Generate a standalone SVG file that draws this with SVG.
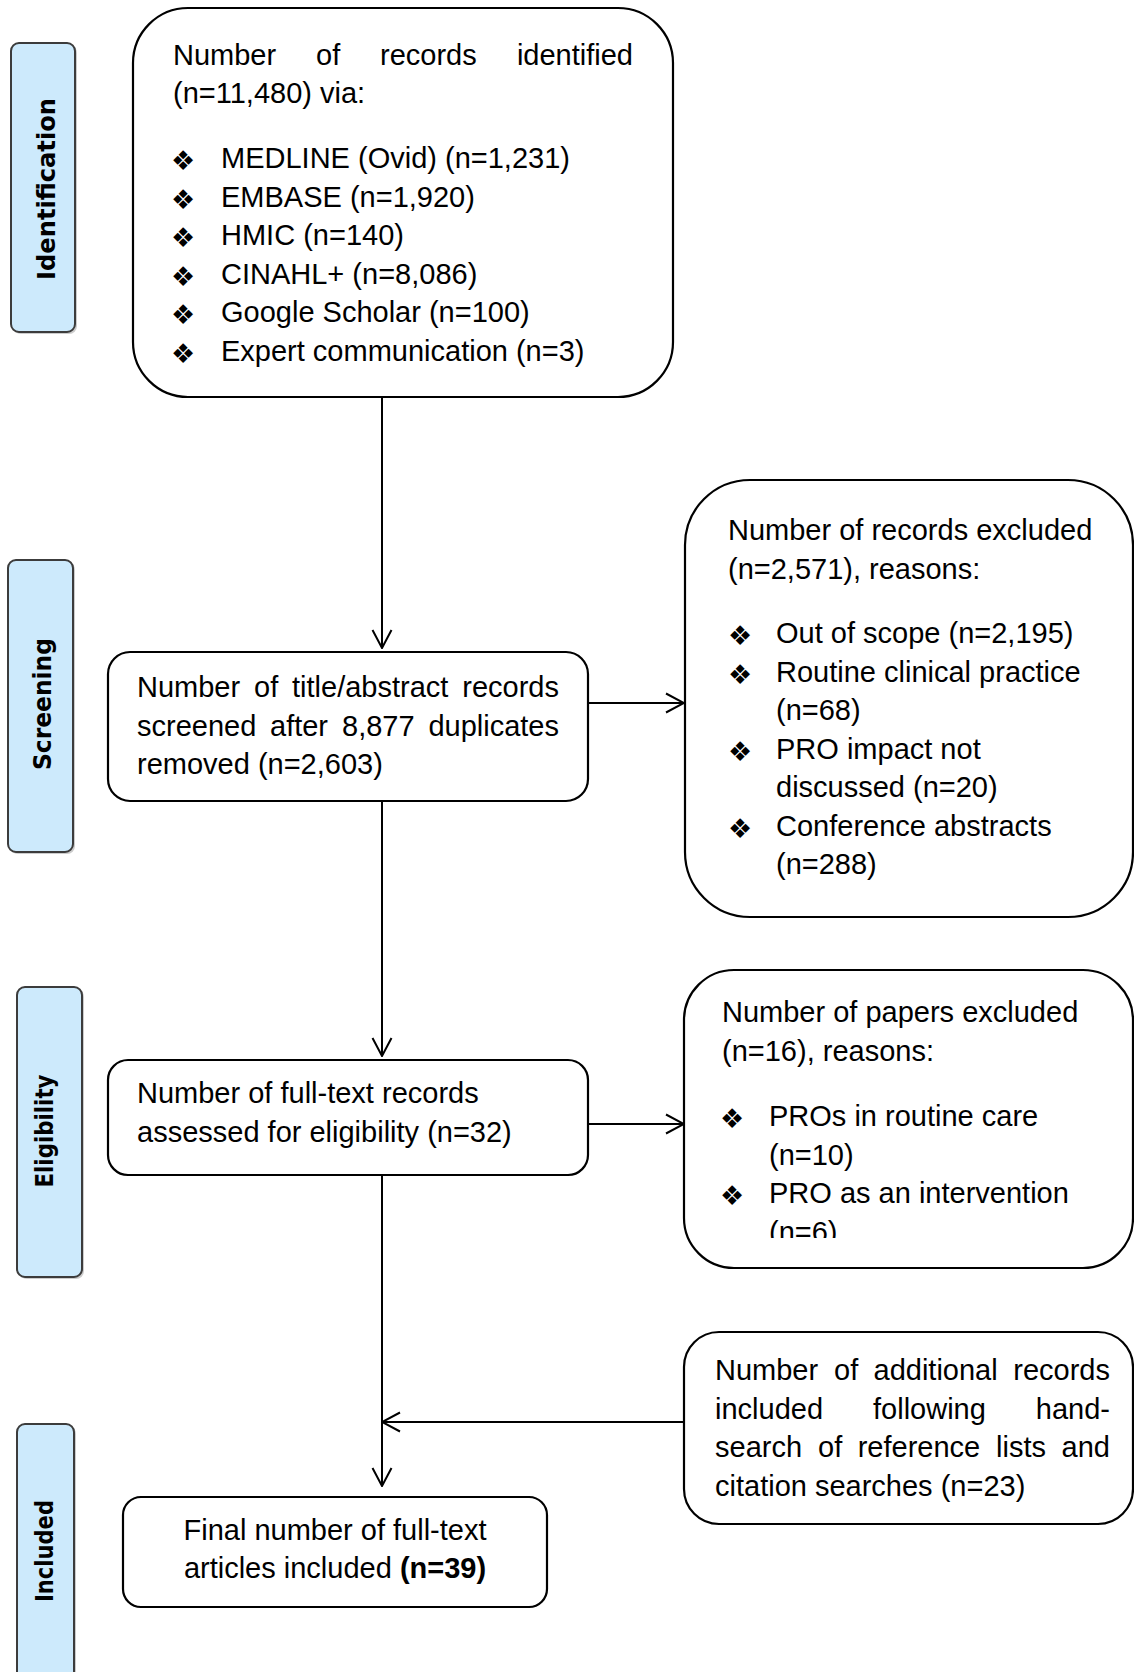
<svg xmlns="http://www.w3.org/2000/svg" width="1134" height="1672" viewBox="0 0 1134 1672">
<style>
.t{font-family:"Liberation Sans",Arial,sans-serif;font-size:29px;fill:#000}
.bl{font-family:"DejaVu Sans",sans-serif;font-size:27px;fill:#000}
.lab{font-family:"DejaVu Sans",sans-serif;font-weight:bold;font-size:24px;fill:#000}
.box{fill:#fff;stroke:#000;stroke-width:2.2}
.side{fill:#cdeafc;stroke:#3c3c3c;stroke-width:2}
.shadow{fill:#9a9a9a;opacity:0.5}
.conn{stroke:#000;stroke-width:2;fill:none}
</style>
<defs>
<marker id="arr" viewBox="0 0 20 22" refX="19" refY="11" markerWidth="20" markerHeight="22" markerUnits="userSpaceOnUse" orient="auto">
<path d="M1,1.5 L19,11 L1,20.5" fill="none" stroke="#000" stroke-width="2"/>
</marker>
<clipPath id="clip5"><rect x="684" y="970" width="450" height="268"/></clipPath>
</defs>
<rect width="1134" height="1672" fill="#fff"/>

<g id="label-identification">
<rect class="shadow" x="13" y="45" width="64" height="289" rx="8"/>
<rect class="side" x="11" y="43" width="64" height="289" rx="8"/>
<text class="lab" transform="translate(55,189) rotate(-90)" text-anchor="middle" textLength="182" lengthAdjust="spacingAndGlyphs">Identification</text>
</g>
<g id="label-screening">
<rect class="shadow" x="10" y="562" width="65" height="292" rx="8"/>
<rect class="side" x="8" y="560" width="65" height="292" rx="8"/>
<text class="lab" transform="translate(51,704) rotate(-90)" text-anchor="middle" textLength="132" lengthAdjust="spacingAndGlyphs">Screening</text>
</g>
<g id="label-eligibility">
<rect class="shadow" x="19" y="989" width="65" height="290" rx="8"/>
<rect class="side" x="17" y="987" width="65" height="290" rx="8"/>
<text class="lab" transform="translate(53,1131) rotate(-90)" text-anchor="middle" textLength="113" lengthAdjust="spacingAndGlyphs">Eligibility</text>
</g>
<g id="label-included">
<rect class="shadow" x="19" y="1426" width="57" height="270" rx="8"/>
<rect class="side" x="17" y="1424" width="57" height="270" rx="8"/>
<text class="lab" transform="translate(53,1551) rotate(-90)" text-anchor="middle" textLength="102" lengthAdjust="spacingAndGlyphs">Included</text>
</g>

<g id="connectors">
<line class="conn" x1="382" y1="397" x2="382" y2="648" marker-end="url(#arr)"/>
<line class="conn" x1="588" y1="703" x2="684" y2="703" marker-end="url(#arr)"/>
<line class="conn" x1="382" y1="801" x2="382" y2="1056" marker-end="url(#arr)"/>
<line class="conn" x1="588" y1="1124" x2="684" y2="1124" marker-end="url(#arr)"/>
<line class="conn" x1="382" y1="1175" x2="382" y2="1486" marker-end="url(#arr)"/>
<line class="conn" x1="685" y1="1422" x2="382" y2="1422" marker-end="url(#arr)"/>
</g>

<g id="node-identified">
<rect class="box" x="133" y="8" width="540" height="389" rx="55"/>
<text class="t" x="173" y="65">Number</text>
<text class="t" x="316" y="65">of</text>
<text class="t" x="380" y="65">records</text>
<text class="t" x="633" y="65" text-anchor="end">identified</text>
<text class="t" x="173" y="103">(n=11,480) via:</text>
<text class="bl" x="171" y="170">❖</text><text class="t" x="221" y="168">MEDLINE (Ovid) (n=1,231)</text>
<text class="bl" x="171" y="208.5">❖</text><text class="t" x="221" y="206.5">EMBASE (n=1,920)</text>
<text class="bl" x="171" y="247">❖</text><text class="t" x="221" y="245">HMIC (n=140)</text>
<text class="bl" x="171" y="285.5">❖</text><text class="t" x="221" y="283.5">CINAHL+ (n=8,086)</text>
<text class="bl" x="171" y="324">❖</text><text class="t" x="221" y="322">Google Scholar (n=100)</text>
<text class="bl" x="171" y="362.5">❖</text><text class="t" x="221" y="360.5">Expert communication (n=3)</text>
</g>

<g id="node-screened">
<rect class="box" x="108" y="652" width="480" height="149" rx="22"/>
<text class="t" x="137" y="697">Number</text>
<text class="t" x="254" y="697">of</text>
<text class="t" x="292" y="697">title/abstract</text>
<text class="t" x="559" y="697" text-anchor="end">records</text>
<text class="t" x="137" y="735.5">screened</text>
<text class="t" x="270" y="735.5">after</text>
<text class="t" x="342" y="735.5">8,877</text>
<text class="t" x="559" y="735.5" text-anchor="end">duplicates</text>
<text class="t" x="137" y="774">removed (n=2,603)</text>
</g>

<g id="node-excluded-records">
<rect class="box" x="685" y="480" width="448" height="437" rx="65"/>
<text class="t" x="728" y="540">Number of records excluded</text>
<text class="t" x="728" y="578.5">(n=2,571), reasons:</text>
<text class="bl" x="728" y="645">❖</text><text class="t" x="776" y="643">Out of scope (n=2,195)</text>
<text class="bl" x="728" y="683.5">❖</text><text class="t" x="776" y="681.5">Routine clinical practice</text>
<text class="t" x="776" y="720">(n=68)</text>
<text class="bl" x="728" y="760.5">❖</text><text class="t" x="776" y="758.5">PRO impact not</text>
<text class="t" x="776" y="797">discussed (n=20)</text>
<text class="bl" x="728" y="837.5">❖</text><text class="t" x="776" y="835.5">Conference abstracts</text>
<text class="t" x="776" y="874">(n=288)</text>
</g>

<g id="node-fulltext">
<rect class="box" x="108" y="1060" width="480" height="115" rx="20"/>
<text class="t" x="137" y="1103">Number of full-text records</text>
<text class="t" x="137" y="1141.5">assessed for eligibility (n=32)</text>
</g>

<g id="node-excluded-papers">
<rect class="box" x="684" y="970" width="449" height="298" rx="50"/>
<g clip-path="url(#clip5)">
<text class="t" x="722" y="1022">Number of papers excluded</text>
<text class="t" x="722" y="1060.5">(n=16), reasons:</text>
<text class="bl" x="720" y="1128">❖</text><text class="t" x="769" y="1126">PROs in routine care</text>
<text class="t" x="769" y="1164.5">(n=10)</text>
<text class="bl" x="720" y="1205">❖</text><text class="t" x="769" y="1203">PRO as an intervention</text>
<text class="t" x="769" y="1242">(n=6)</text>
</g>
</g>

<g id="node-additional">
<rect class="box" x="684" y="1332" width="449" height="192" rx="35"/>
<text class="t" x="715" y="1380">Number</text>
<text class="t" x="834" y="1380">of</text>
<text class="t" x="873.5" y="1380">additional</text>
<text class="t" x="1110" y="1380" text-anchor="end">records</text>
<text class="t" x="715" y="1418.5">included</text>
<text class="t" x="873" y="1418.5">following</text>
<text class="t" x="1110" y="1418.5" text-anchor="end">hand-</text>
<text class="t" x="715" y="1457">search</text>
<text class="t" x="818" y="1457">of</text>
<text class="t" x="857.7" y="1457">reference</text>
<text class="t" x="996" y="1457">lists</text>
<text class="t" x="1110" y="1457" text-anchor="end">and</text>
<text class="t" x="715" y="1495.5">citation searches (n=23)</text>
</g>

<g id="node-final">
<rect class="box" x="123" y="1497" width="424" height="110" rx="18"/>
<text class="t" x="335" y="1540" text-anchor="middle">Final number of full-text</text>
<text class="t" x="335" y="1578" text-anchor="middle">articles included <tspan font-weight="bold">(n=39)</tspan></text>
</g>
</svg>
